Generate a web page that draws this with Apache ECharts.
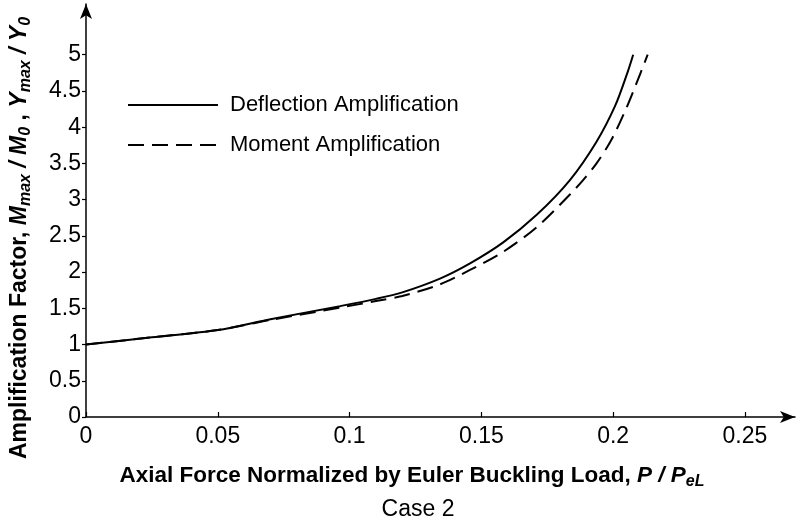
<!DOCTYPE html>
<html>
<head>
<meta charset="utf-8">
<script src="https://cdn.jsdelivr.net/npm/echarts@6/dist/echarts.min.js"></script>
<style>html,body{margin:0;padding:0;background:#fff}#c{width:797px;height:524px}</style>
</head>
<body>
<div id="c"></div>
<script>
// P / PeL values and amplification factors
const deflectionP   = [0, 0.025, 0.05, 0.07, 0.0964, 0.11, 0.12, 0.1343, 0.1457, 0.1583, 0.171, 0.1836, 0.1937, 0.2007, 0.2054, 0.2076];
const deflectionAmp = [1.0, 1.10, 1.20, 1.35, 1.53, 1.63, 1.72, 1.91, 2.12, 2.41, 2.79, 3.27, 3.80, 4.29, 4.75, 5.0];
const momentP   = [0, 0.025, 0.05, 0.07, 0.0964, 0.11, 0.12, 0.1343, 0.1457, 0.1583, 0.171, 0.1836, 0.1886, 0.1937, 0.1994, 0.2051, 0.2102, 0.2131];
const momentAmp = [1.0, 1.10, 1.20, 1.34, 1.51, 1.60, 1.67, 1.83, 2.03, 2.28, 2.62, 3.07, 3.27, 3.50, 3.83, 4.27, 4.73, 5.0];
const xTicks = [0, 0.05, 0.1, 0.15, 0.2, 0.25];
const yTicks = [0, 0.5, 1, 1.5, 2, 2.5, 3, 3.5, 4, 4.5, 5];
const seriesNames = ['Deflection Amplification', 'Moment Amplification'];

const FONT = 'Liberation Sans, Arial, sans-serif';
const zip = (a, b) => a.map((v, i) => [v, b[i]]);

const chart = echarts.init(document.getElementById('c'), null, {renderer: 'canvas'});
chart.setOption({
  animation: false,
  backgroundColor: '#fff',
  grid: {left: 86, right: 2, top: 4, bottom: 107, containLabel: false},
  xAxis: {
    type: 'value', min: 0, max: 0.269,
    axisLine: {show: true, lineStyle: {color: '#000', width: 1.5}, symbol: ['none', 'arrow'], symbolSize: [9, 15]},
    axisTick: {show: true, inside: true, length: 5, lineStyle: {color: '#000', width: 1.2}, customValues: xTicks},
    axisLabel: {color: '#000', fontFamily: FONT, fontSize: 23, margin: 8, customValues: xTicks,
      formatter: v => String(v)},
    splitLine: {show: false}
  },
  yAxis: {
    type: 'value', min: 0, max: 5.7,
    axisLine: {show: true, lineStyle: {color: '#000', width: 1.5}, symbol: ['none', 'arrow'], symbolSize: [9, 15]},
    axisTick: {show: true, inside: false, length: 4, lineStyle: {color: '#000', width: 1.2}, customValues: yTicks},
    axisLabel: {color: '#000', fontFamily: FONT, fontSize: 23, margin: 5, customValues: yTicks,
      formatter: v => String(v)},
    splitLine: {show: false}
  },
  legend: {
    show: true, left: 127, top: 94, padding: 0, orient: 'vertical', itemWidth: 90, itemHeight: 14, itemGap: 18,
    selectedMode: false,
    itemStyle: {opacity: 0},
    textStyle: {color: '#000', fontFamily: FONT, fontSize: 22, padding: [0, 0, 0, 7]},
    data: seriesNames.map(n => ({name: n}))
  },
  series: [
    {name: seriesNames[0], type: 'line', data: zip(deflectionP, deflectionAmp), smooth: 0.3, symbol: 'none',
      lineStyle: {color: '#000', width: 2, type: 'solid'}, itemStyle: {color: '#000'}},
    {name: seriesNames[1], type: 'line', data: zip(momentP, momentAmp), smooth: 0.3, symbol: 'none',
      lineStyle: {color: '#000', width: 2, type: [16, 8]}, itemStyle: {color: '#000'}}
  ],
  graphic: [
    {type: 'text', x: 20, y: 238, rotation: Math.PI / 2, silent: true,
      style: {
        text: '{b|Amplification Factor, }{i|M}{s|max}{i| / M}{s|0}{b| , }{i|Y}{s|max}{i| / Y}{s|0}',
        align: 'center', verticalAlign: 'middle',
        rich: {
          b: {fontFamily: FONT, fontWeight: 'bold', fontSize: 23, fill: '#000'},
          i: {fontFamily: FONT, fontWeight: 'bold', fontStyle: 'italic', fontSize: 23, fill: '#000'},
          s: {fontFamily: FONT, fontWeight: 'bold', fontStyle: 'italic', fontSize: 16, fill: '#000', padding: [11, 0, 0, 0]}
        }
      }},
    {type: 'text', x: 412, y: 476, silent: true,
      style: {
        text: '{b|Axial Force Normalized by Euler Buckling Load, }{i|P / P}{s|eL}',
        align: 'center', verticalAlign: 'middle',
        rich: {
          b: {fontFamily: FONT, fontWeight: 'bold', fontSize: 22.5, fill: '#000'},
          i: {fontFamily: FONT, fontWeight: 'bold', fontStyle: 'italic', fontSize: 22.5, fill: '#000'},
          s: {fontFamily: FONT, fontWeight: 'bold', fontStyle: 'italic', fontSize: 16, fill: '#000', padding: [11, 0, 0, 0]}
        }
      }},
    {type: 'text', x: 418, y: 510, silent: true,
      style: {text: 'Case 2', align: 'center', verticalAlign: 'middle', fontFamily: FONT, fontSize: 23, fill: '#000'}}
  ]
});
</script>
</body>
</html>
